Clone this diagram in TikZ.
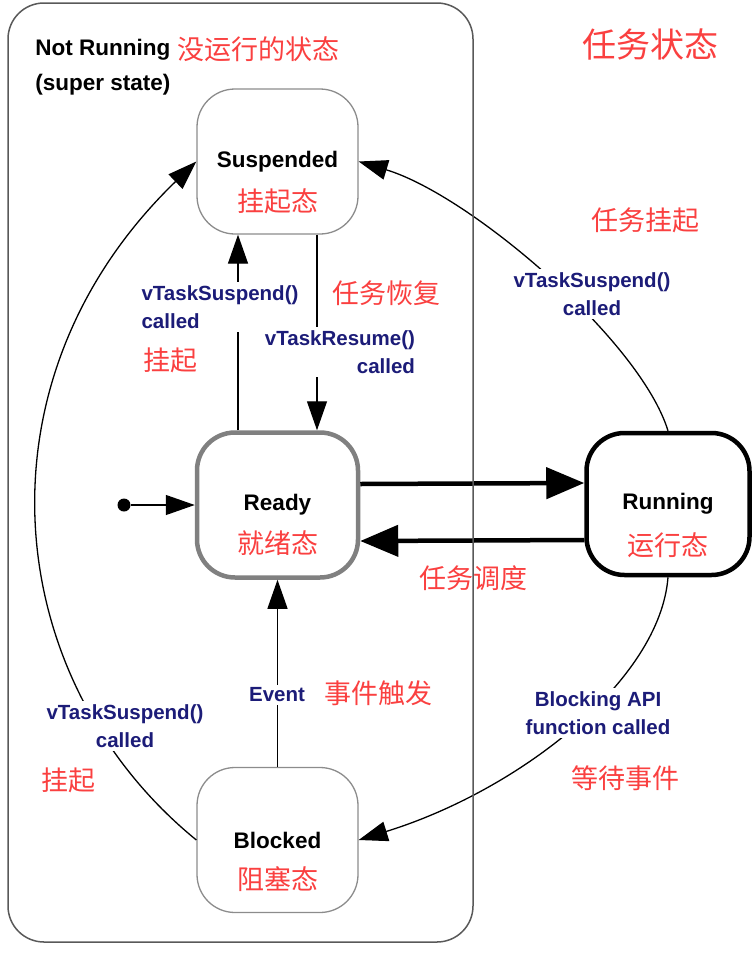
\documentclass[tikz,border=0pt]{standalone}
\usepackage{fontspec}
\setmainfont{Liberation Sans}
\newfontfamily\cjk{Noto Sans CJK SC}
\usetikzlibrary{arrows.meta}
\definecolor{lblue}{RGB}{28,28,120}
\definecolor{cred}{RGB}{250,64,64}
\begin{document}
\begin{tikzpicture}[x=1pt,y=-1pt,
  state/.style={rounded corners=38pt, minimum width=161pt, minimum height=145pt,
    fill=white, inner sep=0pt, font=\fontsize{22.5}{26}\selectfont\bfseries},
  thinstate/.style={state, draw=black!45, line width=1.3pt},
  rl/.style={text=cred, font=\fontsize{27}{30}\selectfont\cjk, inner sep=0pt},
  lbl/.style={fill=white, text=lblue, inner sep=3pt,
    font=\fontsize{20.5}{28}\selectfont\bfseries},
  arr/.style={line width=1.3pt, -{Triangle[length=29pt,width=20pt]}},
  thickarr/.style={line width=4.5pt, -{Triangle[length=38pt,width=31pt]}}
]
\useasboundingbox (0,0) rectangle (754,956);

% states
\node[thinstate] (sus) at (277.5,161.5) {Suspended};
\node[state, draw=black!50, line width=4.5pt] (rdy) at (277.5,505) {Ready};
\node[state, draw=black, line width=4.5pt, minimum width=163pt, minimum height=142pt] (run) at (668,504) {Running};
\node[thinstate] (blk) at (277.5,840) {Blocked};

\node[rl] (susc) at (277.5,201) {挂起态};
\node[rl] (rdyc) at (277.5,543) {就绪态};
\node[rl] (runc) at (668,545) {运行态};
\node[rl] (blkc) at (277.5,879) {阻塞态};

% initial
\node[circle, fill=black, inner sep=0pt, minimum size=13pt] (init) at (124,505) {};
\draw[arr] (init) -- (rdy.west);

% straight connectors
\draw[arr] ([xshift=-39.5pt]rdy.north) -- ([xshift=-39.5pt]sus.south);
\draw[arr] ([xshift=39.5pt]sus.south) -- ([xshift=39.5pt]rdy.north);
\draw[arr] (blk.north) -- (rdy.south);
\draw[thickarr] ([yshift=21pt]rdy.east) -- ([yshift=21pt]run.west);
\draw[thickarr] ([yshift=-36pt]run.west) -- ([yshift=-36pt]rdy.east);

% curved connectors
\draw[arr] (run.north) .. controls (640,340) and (470,195) .. (sus.east);
\draw[arr] (run.south) .. controls (660,680) and (520,790) .. (blk.east);
\draw[arr] (blk.west) .. controls (0,680) and (-30,380) .. (sus.west);

% connector labels
\node[lbl, align=left] (l1) at (220,307) {vTaskSuspend()\\called};
\node[lbl, align=right] (l2) at (340,352) {vTaskResume()\\called};
\node[lbl, align=center] (l3) at (592,294) {vTaskSuspend()\\called};
\node[lbl, align=center] (l4) at (598,713) {Blocking API\\function called};
\node[lbl, align=center] (l5) at (125,726) {vTaskSuspend()\\called};
\node[lbl] (l6) at (277,695) {Event};

% red annotations
\node[rl] (a1) at (386,293) {任务恢复};
\node[rl] (a2) at (170,360) {挂起};
\node[rl] (a3) at (645,220) {任务挂起};
\node[rl] (a4) at (473,578) {任务调度};
\node[rl] (a5) at (378,693) {事件触发};
\node[rl] (a6) at (625,778) {等待事件};
\node[rl] (a7) at (68,780) {挂起};
\node[rl, font=\fontsize{34}{38}\selectfont\cjk] (title) at (650,45) {任务状态};

% super state
\node[align=left, inner sep=0pt, font=\fontsize{22.5}{35}\selectfont\bfseries] (nrt) at (103,67) {Not Running\\(super state)};
\node[rl, anchor=west] (nrc) at (177,49) {没运行的状态};
\node[draw=black!65, line width=1.5pt, rounded corners=36pt, minimum width=465pt, minimum height=939pt] (nr) at (240.5,472.5) {};
\end{tikzpicture}
\end{document}
